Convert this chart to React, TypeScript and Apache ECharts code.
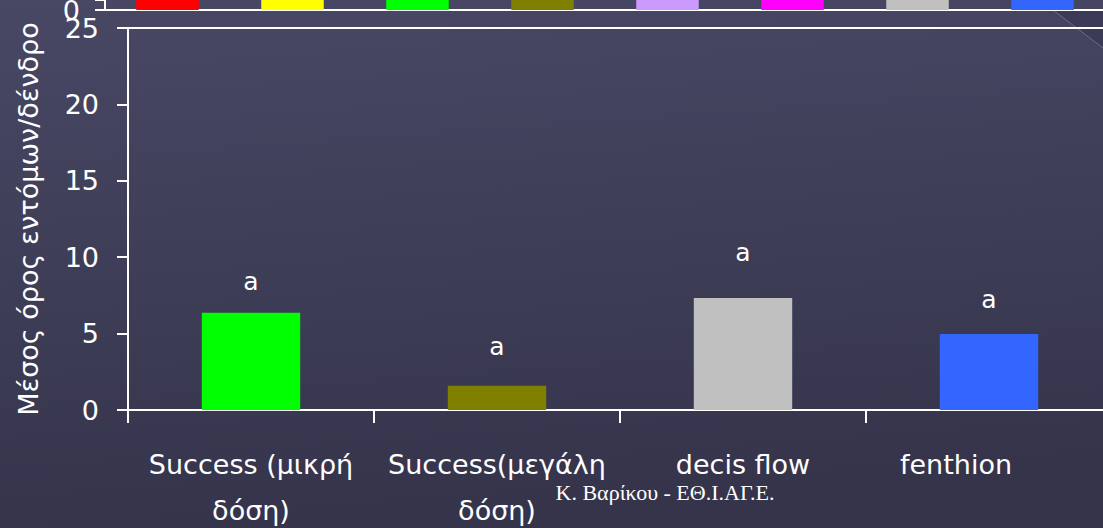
import React, { useEffect, useRef } from "react";
import * as echarts from "echarts";

// Main chart: mean insects per tree for each treatment
const categories = ["Success (μικρή\nδόση)", "Success(μεγάλη\nδόση)", "decis flow", "fenthion"];
const meanInsects = [6.37, 1.59, 7.33, 4.97];
const barColors = ["#00ff00", "#808000", "#c0c0c0", "#3366ff"];
const groupLetters = ["a", "a", "a", "a"];
const letterHeights = [8.4, 4.14, 10.29, 7.26];
const yMin = 0;
const yMax = 25;
const yStep = 5;
const yTitle = "Μέσος όρος εντόμων/δένδρο";
const footer = "Κ. Βαρίκου - ΕΘ.Ι.ΑΓ.Ε.";

// Strip along the top: the base of the preceding chart's bars
const stripCategories = ["1", "2", "3", "4", "5", "6", "7", "8"];
const stripColors = ["#ff0000", "#ffff00", "#00ff00", "#808000", "#cc99ff", "#ff00ff", "#c0c0c0", "#3366ff"];
const stripVisible = [1, 1, 1, 1, 1, 1, 1, 1];

const FONT = '"DejaVu Sans", "Comic Sans MS", sans-serif';
const FS = 27;

export default function App() {
  const ref = useRef<HTMLDivElement>(null);

  useEffect(() => {
    if (!ref.current) return;
    const chart = echarts.init(ref.current, null, { renderer: "svg" });
    const W = 1103;

    chart.setOption({
      animation: false,
      backgroundColor: {
        type: "linear",
        x: 0,
        y: 0,
        x2: 0.15,
        y2: 1,
        colorStops: [
          { offset: 0, color: "#484865" },
          { offset: 1, color: "#35344b" },
        ],
      },
      textStyle: { fontFamily: FONT },
      grid: [
        {
          left: 128,
          right: W - 1112,
          top: 28,
          bottom: 118,
          outerBoundsMode: "none",
          containLabel: false,
          show: true,
          borderColor: "#ffffff",
          borderWidth: 2,
          backgroundColor: "transparent",
        },
        { left: 105, right: W - 1105, top: 0, height: 10, outerBoundsMode: "none", containLabel: false },
      ],
      xAxis: [
        {
          type: "category",
          gridIndex: 0,
          data: categories,
          axisLine: { lineStyle: { color: "#ffffff", width: 2 } },
          axisTick: { show: true, length: 13, lineStyle: { color: "#ffffff", width: 2 } },
          axisLabel: {
            color: "#ffffff",
            fontSize: FS,
            fontFamily: FONT,
            lineHeight: 46,
            margin: 31,
            interval: 0,
            hideOverlap: false,
            formatter: (v: string) => (v === "fenthion" ? "{shift|" + v + "}" : v),
            rich: {
              shift: { fontSize: FS, fontFamily: FONT, color: "#ffffff", padding: [0, 66, 0, 0], lineHeight: 46 },
            },
          },
          splitLine: { show: false },
        },
        {
          type: "category",
          gridIndex: 1,
          data: stripCategories,
          axisLine: { lineStyle: { color: "#ffffff", width: 2 } },
          axisTick: { show: false },
          axisLabel: { show: false },
        },
      ],
      yAxis: [
        {
          type: "value",
          gridIndex: 0,
          min: yMin,
          max: yMax,
          interval: yStep,
          name: yTitle,
          nameLocation: "middle",
          nameRotate: 90,
          nameGap: 86,
          nameTextStyle: { color: "#ffffff", fontSize: FS, fontFamily: FONT },
          axisLine: { show: true, lineStyle: { color: "#ffffff", width: 2 } },
          axisTick: { show: true, length: 11, lineStyle: { color: "#ffffff", width: 2 } },
          axisLabel: { color: "#ffffff", fontSize: FS, fontFamily: FONT, margin: 29 },
          splitLine: { show: false },
        },
        {
          type: "value",
          gridIndex: 1,
          min: 0,
          max: 1,
          interval: 1,
          axisLine: { show: true, lineStyle: { color: "#ffffff", width: 2 } },
          axisTick: { show: true, length: 10, lineStyle: { color: "#ffffff", width: 2 } },
          axisLabel: {
            color: "#ffffff",
            fontSize: FS,
            fontFamily: FONT,
            margin: 25,
            padding: [0, 0, 10, 0],
            formatter: (v: number) => (v === 0 ? "0" : ""),
          },
          splitLine: { show: false },
        },
      ],
      series: [
        {
          type: "bar",
          xAxisIndex: 0,
          yAxisIndex: 0,
          barWidth: "40%",
          data: meanInsects.map((v, i) => ({ value: v, itemStyle: { color: barColors[i] } })),
        },
        {
          type: "scatter",
          xAxisIndex: 0,
          yAxisIndex: 0,
          symbolSize: 0,
          itemStyle: { opacity: 1 },
          data: letterHeights.map((v, i) => [i, v]),
          label: {
            show: true,
            position: "inside",
            offset: [0, 0],
            color: "#ffffff",
            opacity: 1,
            fontSize: 25,
            fontFamily: FONT,
            formatter: (p: any) => groupLetters[p.dataIndex],
          },
        },
        {
          type: "bar",
          xAxisIndex: 1,
          yAxisIndex: 1,
          barWidth: "50%",
          data: stripVisible.map((v, i) => ({ value: v, itemStyle: { color: stripColors[i] } })),
        },
      ],
      graphic: [
        {
          type: "polygon",
          z: -10,
          silent: true,
          shape: { points: [[1053, 10], [1103, 10], [1103, 48]] },
          style: { fill: "#3b3a57" },
        },
        {
          type: "line",
          z: -9,
          silent: true,
          shape: { x1: 1053, y1: 10, x2: 1103, y2: 48 },
          style: { stroke: "#6c6c8a", lineWidth: 1 },
        },
        {
          type: "text",
          x: 665,
          y: 492,
          style: {
            text: footer,
            font: '22px "Liberation Serif", "Times New Roman", serif',
            fill: "#ffffff",
            align: "center",
            verticalAlign: "middle",
          },
        },
      ],
    });

    return () => chart.dispose();
  }, []);

  return (
    <div
      ref={ref}
      style={{ position: "fixed", left: 0, top: 0, width: 1103, height: 528 }}
    />
  );
}
